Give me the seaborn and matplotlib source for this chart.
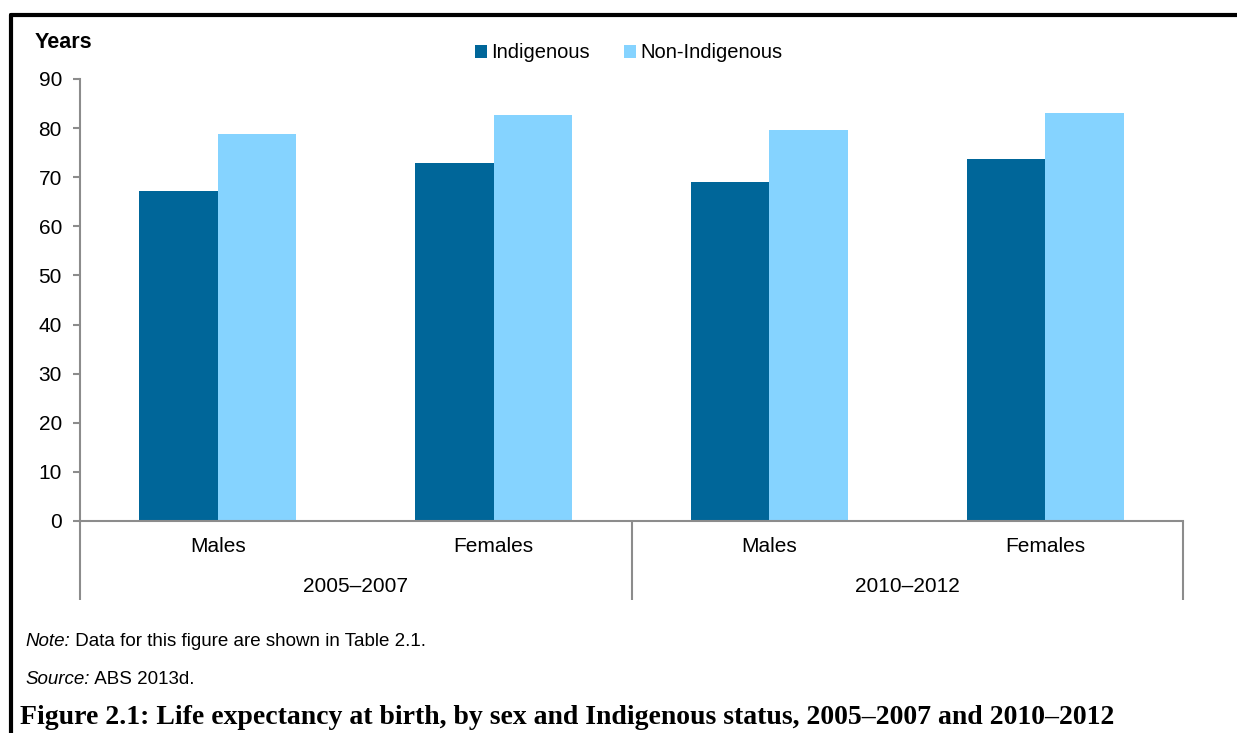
import matplotlib
matplotlib.use("Agg")
import matplotlib.pyplot as plt
import matplotlib.transforms as mtransforms
from matplotlib.patches import Patch
import seaborn as sns
import pandas as pd

# Life expectancy at birth (years)
periods = ["2005–2007", "2005–2007", "2010–2012", "2010–2012"]
sexes = ["Males", "Females", "Males", "Females"]
indigenous = [67.2, 72.9, 69.1, 73.7]
non_indigenous = [78.7, 82.6, 79.7, 83.1]
status_labels = ["Indigenous", "Non-Indigenous"]
y_ticks = [0, 10, 20, 30, 40, 50, 60, 70, 80, 90]

colors = ["#006699", "#85D3FF"]

sns.set_theme(style="white")
plt.rcParams["font.family"] = ["Liberation Sans", "DejaVu Sans"]
plt.rcParams["text.color"] = "black"
plt.rcParams["axes.labelcolor"] = "black"
plt.rcParams["ytick.color"] = "black"

slots = [f"{p}|{s}" for p, s in zip(periods, sexes)]
df = pd.DataFrame({
    "slot": slots * 2,
    "status": [status_labels[0]] * 4 + [status_labels[1]] * 4,
    "years": indigenous + non_indigenous,
})

fig = plt.figure(figsize=(12.37, 7.33), dpi=100)
ax = fig.add_axes([80 / 1237, 1 - 521 / 733, (1183 - 80) / 1237, (521 - 79) / 733])

sns.barplot(data=df, x="slot", y="years", hue="status", order=slots,
            hue_order=status_labels, palette=colors, width=0.57,
            saturation=1, linewidth=0, legend=False, ax=ax)

ax.set_xlim(-0.5, len(slots) - 0.5)
ax.set_ylim(0, 90)
ax.set_yticks(y_ticks)
ax.set_yticklabels([str(v) for v in y_ticks], fontsize=15, color="black")
ax.set_xticks([])
ax.set_xlabel("")
ax.set_ylabel("")

axis_grey = "#8c8c8c"
for side in ["top", "right"]:
    ax.spines[side].set_visible(False)
for side in ["left", "bottom"]:
    ax.spines[side].set_color(axis_grey)
    ax.spines[side].set_linewidth(1.5)
ax.tick_params(axis="y", which="major", direction="out", length=5,
               width=1.5, color=axis_grey, pad=8, left=True)

# Two-level category axis below the plot
trans = mtransforms.blended_transform_factory(ax.transData, ax.transAxes)
drop = -(600 - 521) / (521 - 79)
for xb in [-0.5, 1.5, 3.5]:
    ax.plot([xb, xb], [0, drop], transform=trans, color=axis_grey,
            lw=1.5, clip_on=False, solid_capstyle="butt")

sex_y = -(547 - 521) / (521 - 79)
period_y = -(587 - 521) / (521 - 79)
for i, s in enumerate(sexes):
    ax.text(i, sex_y, s, transform=trans, ha="center", va="center", fontsize=15)
for p_idx, p in enumerate(dict.fromkeys(periods)):
    ax.text(p_idx * 2 + 0.5, period_y, p, transform=trans, ha="center",
            va="center", fontsize=15)

fig.text(35 / 1237, 1 - 42 / 733, "Years", fontsize=15.5, fontweight="bold",
         ha="left", va="center")

handles = [Patch(facecolor=c, edgecolor="none") for c in colors]
fig.legend(handles, status_labels, loc="center", ncol=2,
           bbox_to_anchor=(629 / 1237, 1 - 53 / 733), frameon=False,
           fontsize=14.5, handlelength=0.6, handleheight=0.6,
           handletextpad=0.2, columnspacing=1.7)

# Outer frame (open at the bottom)
fig.add_artist(plt.Line2D([11 / 1237, 11 / 1237], [0, 1 - 15 / 733],
                          transform=fig.transFigure, color="black", lw=3))
fig.add_artist(plt.Line2D([11 / 1237, 1.0], [1 - 15 / 733, 1 - 15 / 733],
                          transform=fig.transFigure, color="black", lw=3))

# Notes: italic lead-in followed by regular text
note_x = 25 / 1237
t1 = fig.text(note_x, 1 - 641 / 733, "Note:", fontsize=13.5, style="italic", va="center")
t2 = fig.text(note_x, 1 - 679 / 733, "Source:", fontsize=13.5, style="italic", va="center")
fig.canvas.draw()
r = fig.canvas.get_renderer()
for t, rest in [(t1, " Data for this figure are shown in Table 2.1."),
                (t2, " ABS 2013d.")]:
    bb = t.get_window_extent(renderer=r)
    fig.text(bb.x1 / fig.bbox.width, t.get_position()[1], rest, fontsize=13.5, va="center")

fig.text(20 / 1237, 1 - 717 / 733,
         "Figure 2.1: Life expectancy at birth, by sex and Indigenous status, 2005–2007 and 2010–2012",
         fontsize=20, fontweight="bold", family=["Liberation Serif", "DejaVu Serif"],
         va="center", ha="left")

fig.savefig("out.png", dpi=100)
